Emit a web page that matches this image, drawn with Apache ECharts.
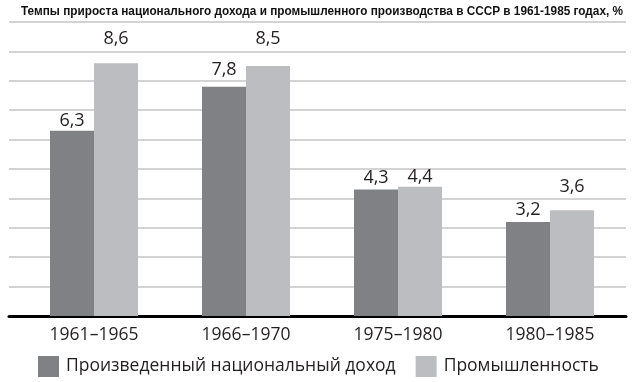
<!DOCTYPE html>
<html>
<head>
<meta charset="utf-8">
<script src="https://cdn.jsdelivr.net/npm/echarts@6/dist/echarts.min.js"></script>
<style>
html,body{margin:0;padding:0;background:#fff;}
#chart{width:636px;height:382px;}
</style>
</head>
<body>
<div id="chart"></div>
<script>
const titleText = 'Темпы прироста национального дохода и промышленного производства в СССР в 1961-1985 годах, %';
const categories = ['1961–1965', '1966–1970', '1975–1980', '1980–1985'];
const seriesNames = ['Произведенный национальный доход', 'Промышленность'];
const nationalIncome = [6.3, 7.8, 4.3, 3.2];
const industry = [8.6, 8.5, 4.4, 3.6];
const yMin = 0, yMax = 10, yStep = 1;
// label lift above each bar (style only, px)
const liftIncome = [1, 8, 3, 3];
const liftIndustry = [15, 18, 1, 14];

const font = '"Open Sans", "Noto Sans", sans-serif';
const fmt = p => String(p.value).replace('.', ',');

const titleFont = 'bold 13px "Liberation Sans", Arial, sans-serif';
const mctx = document.createElement('canvas').getContext('2d');
mctx.font = titleFont;
const titleScale = 602 / mctx.measureText(titleText).width;

function withLabels(values, lifts) {
  return values.map((v, i) => ({value: v, label: {distance: lifts[i]}}));
}

const chart = echarts.init(document.getElementById('chart'), null, {renderer: 'canvas'});
chart.setOption({
  animation: false,
  backgroundColor: '#fff',
  graphic: [{
    type: 'text', x: 322, y: 11, scaleX: titleScale, silent: true,
    style: {text: titleText, font: titleFont, fill: '#111', align: 'center', verticalAlign: 'middle'}
  }],
  legend: {
    left: 38, top: 356, padding: 0,
    itemWidth: 21, itemHeight: 21, itemGap: 20,
    icon: 'rect',
    textStyle: {fontFamily: font, fontSize: 17.5, color: '#231f20', padding: [0, 0, 0, 2]},
    data: seriesNames
  },
  grid: [
    {left: 9, right: 10, top: 22, bottom: 66},
    {left: 18, width: 608, top: 22, bottom: 66}
  ],
  xAxis: [
    {gridIndex: 0, type: 'category', data: categories,
     axisLine: {show: true, lineStyle: {color: '#000', width: 3}},
     axisTick: {show: false}, axisLabel: {show: false}},
    {gridIndex: 1, type: 'category', data: categories,
     axisLine: {show: false}, axisTick: {show: false},
     axisLabel: {fontFamily: font, fontSize: 17.5, color: '#231f20', margin: 10}}
  ],
  yAxis: [
    {gridIndex: 0, type: 'value', min: yMin, max: yMax, interval: yStep,
     axisLine: {show: false}, axisTick: {show: false}, axisLabel: {show: false},
     splitLine: {show: true, lineStyle: {color: '#c4c4c4', width: 1.5}}},
    {gridIndex: 1, type: 'value', min: yMin, max: yMax, interval: yStep, show: false,
     splitLine: {show: false}}
  ],
  series: [
    {name: seriesNames[0], type: 'bar', xAxisIndex: 1, yAxisIndex: 1, data: withLabels(nationalIncome, liftIncome),
     barWidth: 44, barGap: '0%',
     itemStyle: {color: '#808185'},
     label: {show: true, position: 'top', formatter: fmt, fontFamily: font, fontSize: 18, color: '#231f20'}},
    {name: seriesNames[1], type: 'bar', xAxisIndex: 1, yAxisIndex: 1, data: withLabels(industry, liftIndustry),
     barWidth: 44, barGap: '0%',
     itemStyle: {color: '#bcbdc0'},
     label: {show: true, position: 'top', formatter: fmt, fontFamily: font, fontSize: 18, color: '#231f20'}}
  ]
});
</script>
</body>
</html>
